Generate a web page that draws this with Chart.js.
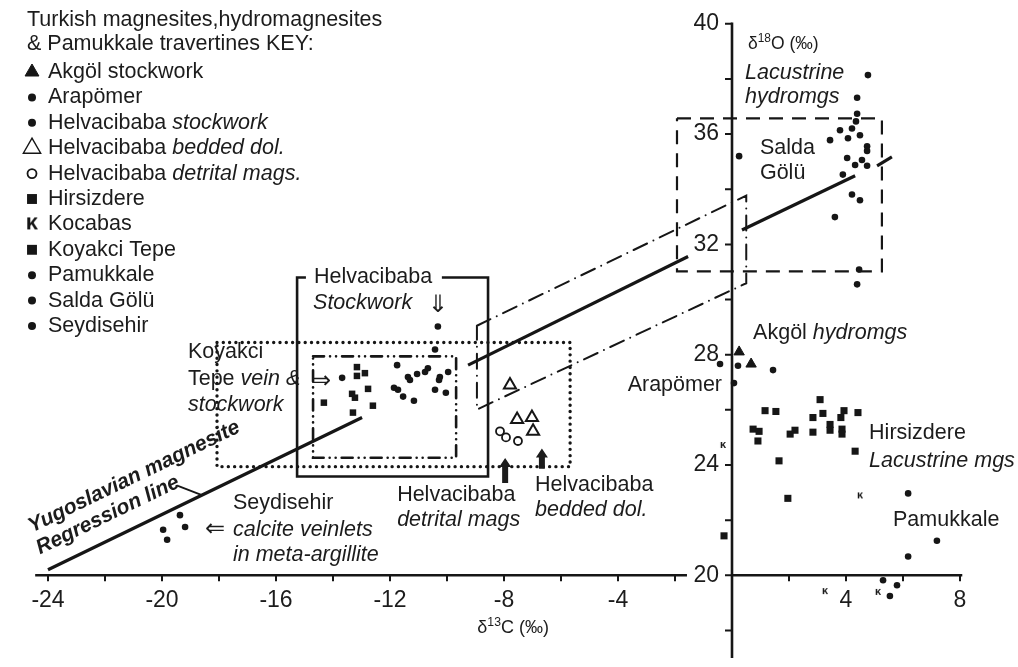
<!DOCTYPE html>
<html>
<head>
<meta charset="utf-8">
<script src="https://cdn.jsdelivr.net/npm/chart.js@4.4.1/dist/chart.umd.min.js"></script>
<style>
  body { margin: 0; background: #fff; }
  #wrap { width: 1018px; height: 667px; position: relative; }
</style>
</head>
<body>
<div id="wrap"><canvas id="isoChart"></canvas></div>
<script>
// ---------------- Data: [δ13C, δ18O] ----------------
const akgolStockwork = [[0.25, 28.1], [0.67, 27.66]];
const arapomer = [[-0.42, 27.66], [0.21, 27.6], [0.07, 26.97], [1.44, 27.44]];
const helvStockwork = [[-10.32, 29.02], [-10.42, 28.19], [-13.68, 27.16], [-11.75, 27.62], [-11.37, 27.19],
  [-11.30, 27.08], [-11.05, 27.30], [-10.77, 27.37], [-10.67, 27.51], [-10.25, 27.19], [-10.28, 27.08],
  [-9.96, 27.37], [-11.86, 26.80], [-11.72, 26.73], [-11.54, 26.48], [-11.16, 26.33], [-10.42, 26.73], [-10.04, 26.62]];
const helvBeddedDol = [[-7.79, 26.9], [-7.54, 25.65], [-7.02, 25.72], [-6.98, 25.22]];
const helvDetrital = [[-8.14, 25.22], [-7.93, 25.0], [-7.51, 24.87]];
const hirsizdere = [[1.16, 25.97], [1.54, 25.94], [3.09, 26.37], [2.84, 25.72], [3.19, 25.87], [3.93, 25.97],
  [4.42, 25.90], [3.82, 25.72], [3.44, 25.47], [3.44, 25.26], [3.86, 25.30], [3.86, 25.12], [2.84, 25.19],
  [2.21, 25.26], [2.04, 25.12], [0.74, 25.30], [0.95, 25.22], [0.91, 24.87], [4.32, 24.50], [1.65, 24.15],
  [1.96, 22.79], [-0.28, 21.43]];
const kocabas = [[-0.32, 24.69], [4.49, 22.86], [3.26, 19.39], [5.12, 19.36]];
const koyakciTepe = [[-13.16, 27.55], [-13.16, 27.23], [-12.88, 27.33], [-13.33, 26.58], [-13.23, 26.44],
  [-12.77, 26.76], [-12.60, 26.15], [-14.32, 26.26], [-13.30, 25.90]];
const pamukkale = [[6.18, 22.97], [7.19, 21.25], [6.18, 20.68], [5.30, 19.82], [5.79, 19.64], [5.54, 19.25]];
const saldaGolu = [[4.77, 38.14], [4.39, 37.32], [4.39, 36.74], [4.35, 36.46], [4.21, 36.20], [3.79, 36.14],
  [4.49, 35.96], [4.07, 35.85], [3.44, 35.78], [4.74, 35.56], [4.74, 35.39], [4.04, 35.13], [4.56, 35.06],
  [4.32, 34.88], [4.74, 34.85], [3.89, 34.53], [4.21, 33.81], [4.49, 33.60], [3.61, 32.99], [4.46, 31.09],
  [4.39, 30.55], [0.25, 35.20]];
const seydisehir = [[-19.37, 22.18], [-19.19, 21.75], [-19.96, 21.65], [-19.82, 21.29]];

// Yugoslavian magnesite regression line (drawn in pieces) and its envelope
const regressionSegments = [
  [[-24, 20.2], [-12.98, 25.72]],
  [[-9.26, 27.62], [-1.54, 31.56]],
  [[0.35, 32.52], [4.32, 34.49]],
  [[5.09, 34.85], [5.61, 35.17]]
];
const regressionLeader = [[-19.44, 23.24], [-18.6, 22.91]];
const confidenceBand = [[-8.95, 29.05], [0.5, 33.77], [0.5, 30.59], [-8.95, 26.01], [-8.95, 29.05]];
const saldaBox = [[-1.93, 36.57], [5.26, 36.57], [5.26, 31.02], [-1.93, 31.02], [-1.93, 36.57]];
const koyakciBox = [[-18.07, 28.44], [-5.68, 28.44], [-5.68, 23.94], [-18.07, 23.94], [-18.07, 28.44]];
const innerBox = [[-14.70, 27.94], [-9.68, 27.94], [-9.68, 24.26], [-14.70, 24.26], [-14.70, 27.94]];
const helvBracket = [[-14.95, 30.80], [-15.26, 30.80], [-15.26, 23.58], [-8.56, 23.58], [-8.56, 30.80], [-10.18, 30.80]];
const upArrows = [[-7.96, 23.35, 24.25], [-6.67, 23.86, 24.6]]; // x, from, to

// ---------------- Axes ----------------
const xTickLabels = [-24, -20, -16, -12, -8, -4, 4, 8];
const xMinorTicks = [-22, -18, -14, -10, -6, -2, 2, 6];
const yTickLabels = [20, 24, 28, 32, 36, 40];
const yMinorTicks = [18, 22, 26, 30, 34, 38];

// ---------------- Texts ----------------
const legendTitle = ['Turkish magnesites,hydromagnesites', '& Pamukkale travertines KEY:'];
const legendLabels = [
  [['Akgöl stockwork', '']],
  [['Arapömer', '']],
  [['Helvacibaba ', ''], ['stockwork', 'italic']],
  [['Helvacibaba ', ''], ['bedded dol.', 'italic']],
  [['Helvacibaba ', ''], ['detrital mags.', 'italic']],
  [['Hirsizdere', '']],
  [['Kocabas', '']],
  [['Koyakci Tepe', '']],
  [['Pamukkale', '']],
  [['Salda Gölü', '']],
  [['Seydisehir', '']]
];
// [x, y, parts, align]
const plotLabels = [
  [-14.67, 30.80, [['Helvacibaba', '']]],
  [-14.70, 29.87, [['Stockwork', 'italic']]],
  [-19.09, 28.09, [['Koyakci', '']]],
  [-19.09, 27.12, [['Tepe ', ''], ['vein &', 'italic']]],
  [-19.09, 26.19, [['stockwork', 'italic']]],
  [-17.51, 22.61, [['Seydisehir', '']]],
  [-17.51, 21.65, [['calcite veinlets', 'italic']]],
  [-17.51, 20.75, [['in meta-argillite', 'italic']]],
  [-11.75, 22.90, [['Helvacibaba', '']]],
  [-11.75, 22.00, [['detrital mags', 'italic']]],
  [-6.91, 23.26, [['Helvacibaba', '']]],
  [-6.91, 22.36, [['bedded dol.', 'italic']]],
  [0.74, 28.77, [['Akgöl ', ''], ['hydromgs', 'italic']]],
  [-0.35, 26.91, [['Arapömer', '']], 'right'],
  [4.81, 25.15, [['Hirsizdere', '']]],
  [4.81, 24.15, [['Lacustrine mgs', 'italic']]],
  [5.65, 22.00, [['Pamukkale', '']]],
  [0.46, 38.21, [['Lacustrine', 'italic']]],
  [0.46, 37.35, [['hydromgs', 'italic']]],
  [0.98, 35.49, [['Salda', '']]],
  [0.98, 34.60, [['Gölü', '']]]
];
const arrowLabels = [[-10.32, 29.77, '⇓'], [-14.42, 27.01, '⇒'], [-18.14, 21.65, '⇐']];
const yAxisTitle = [0.56, 39.25, [['δ', ''], ['18', 'sup'], ['O (‰)', '']]];
const xAxisTitle = [-7.68, 18.07, [['δ', ''], ['13', 'sup'], ['C (‰)', '']]];
const regressionTitle = [[-24.56, 21.54, 'Yugoslavian magnesite'], [-24.28, 20.75, 'Regression line']];

const INK = '#161616';
const FAMILY = '"Liberation Sans", Arial, "DejaVu Sans", sans-serif';
const LABEL_PX = 21.5;

function kappaStyle(size, fontPx) {
  const c = document.createElement('canvas');
  c.width = size; c.height = size;
  const g = c.getContext('2d');
  g.fillStyle = INK;
  g.font = `bold ${fontPx}px ${FAMILY}`;
  g.textAlign = 'center';
  g.textBaseline = 'middle';
  g.fillText('κ', size / 2, size / 2 - 1);
  return c;
}
const kappaSmall = kappaStyle(12, 11);
const kappaLarge = kappaStyle(22, 22);

const toXY = arr => arr.map(p => ({x: p[0], y: p[1]}));

// ---------------- Datasets ----------------
const markerDatasets = [
  {data: toXY(akgolStockwork), pointStyle: 'triangle', pointRadius: 6, backgroundColor: INK, borderColor: INK, borderWidth: 1, legendRadius: 8},
  {data: toXY(arapomer), pointStyle: 'circle', pointRadius: 3.3, backgroundColor: INK, borderColor: INK, borderWidth: 0, legendRadius: 4},
  {data: toXY(helvStockwork), pointStyle: 'circle', pointRadius: 3.3, backgroundColor: INK, borderColor: INK, borderWidth: 0, legendRadius: 4},
  {data: toXY(helvBeddedDol), pointStyle: 'triangle', pointRadius: 7, backgroundColor: '#fff', borderColor: INK, borderWidth: 2, legendRadius: 10, legendBorder: 1.4},
  {data: toXY(helvDetrital), pointStyle: 'circle', pointRadius: 4, backgroundColor: '#fff', borderColor: INK, borderWidth: 1.8, legendRadius: 4.5},
  {data: toXY(hirsizdere), pointStyle: 'rect', pointRadius: 5, backgroundColor: INK, borderColor: INK, borderWidth: 0, legendRadius: 7},
  {data: toXY(kocabas), pointStyle: kappaSmall, pointRadius: 5, backgroundColor: INK, borderColor: INK, borderWidth: 0, legendStyle: kappaLarge},
  {data: toXY(koyakciTepe), pointStyle: 'rect', pointRadius: 4.6, backgroundColor: INK, borderColor: INK, borderWidth: 0, legendRadius: 7},
  {data: toXY(pamukkale), pointStyle: 'circle', pointRadius: 3.3, backgroundColor: INK, borderColor: INK, borderWidth: 0, legendRadius: 4},
  {data: toXY(saldaGolu), pointStyle: 'circle', pointRadius: 3.3, backgroundColor: INK, borderColor: INK, borderWidth: 0, legendRadius: 4},
  {data: toXY(seydisehir), pointStyle: 'circle', pointRadius: 3.3, backgroundColor: INK, borderColor: INK, borderWidth: 0, legendRadius: 4}
];

function lineSet(points, width, dash, cap) {
  return {
    data: toXY(points), showLine: true, pointRadius: 0, borderColor: INK, backgroundColor: INK,
    borderWidth: width, borderDash: dash || [], borderCapStyle: cap || 'butt', borderJoinStyle: 'miter',
    tension: 0, fill: false
  };
}

const lineDatasets = [
  ...regressionSegments.map(seg => lineSet(seg, 3.2)),
  lineSet(regressionLeader, 1.8),
  lineSet(confidenceBand, 2, [15, 7, 0, 7], 'round'),
  lineSet(saldaBox, 2.2, [14, 9]),
  lineSet(koyakciBox, 3.4, [0, 6.3], 'round'),
  lineSet(innerBox, 2.6, [11, 6, 0, 6, 0, 6], 'round'),
  lineSet(helvBracket, 2.6)
];


// ---------------- Text helpers ----------------
function fontFor(size, style) {
  return `${style === 'italic' ? 'italic ' : ''}${style === 'bold' ? 'bold ' : ''}${size}px ${FAMILY}`;
}

function drawParts(ctx, parts, x, y, size, align) {
  const sizes = parts.map(p => p[1] === 'sup' ? size * 0.68 : size);
  const widths = parts.map((p, i) => {
    ctx.font = fontFor(sizes[i], p[1]);
    return ctx.measureText(p[0]).width;
  });
  const total = widths.reduce((a, b) => a + b, 0);
  let cx = align === 'right' ? x - total : align === 'center' ? x - total / 2 : x;
  ctx.textAlign = 'left';
  ctx.textBaseline = 'middle';
  parts.forEach((p, i) => {
    ctx.font = fontFor(sizes[i], p[1]);
    ctx.fillText(p[0], cx, p[1] === 'sup' ? y - size * 0.3 : y);
    cx += widths[i];
  });
}

function drawMarker(ctx, ds, x, y) {
  ctx.save();
  ctx.fillStyle = ds.backgroundColor;
  ctx.strokeStyle = ds.borderColor;
  const bw = ds.legendBorder !== undefined ? ds.legendBorder : ds.borderWidth;
  ctx.lineWidth = bw;
  Chart.helpers.drawPoint(ctx, {
    pointStyle: ds.legendStyle || ds.pointStyle,
    radius: ds.legendRadius || 5,
    rotation: 0,
    borderWidth: bw
  }, x, y);
  ctx.restore();
}

// ---------------- Axes, labels and key ----------------
const figurePlugin = {
  id: 'figure',
  afterDatasetsDraw(chart) {
    const ctx = chart.ctx;
    const xs = chart.scales.x, ys = chart.scales.y;
    const px = v => xs.getPixelForValue(v);
    const py = v => ys.getPixelForValue(v);
    ctx.save();
    ctx.strokeStyle = INK;
    ctx.fillStyle = INK;

    // axis lines: x axis broken around the "20" label, y axis at δ13C = 0
    ctx.lineWidth = 2.6;
    ctx.beginPath();
    ctx.moveTo(px(-24.45), py(20)); ctx.lineTo(px(-1.58), py(20));
    ctx.moveTo(px(0), py(20)); ctx.lineTo(px(8.08), py(20));
    ctx.moveTo(px(0), py(40.05)); ctx.lineTo(px(0), py(17));
    ctx.stroke();

    ctx.lineWidth = 2;
    ctx.beginPath();
    [...xTickLabels, ...xMinorTicks].forEach(v => {
      ctx.moveTo(px(v), py(20)); ctx.lineTo(px(v), py(20) + 6);
    });
    [...yTickLabels, ...yMinorTicks].forEach(v => {
      ctx.moveTo(px(0), py(v)); ctx.lineTo(px(0) - 7, py(v));
    });
    ctx.stroke();

    ctx.fillStyle = '#1c1c1c';
    ctx.font = `23px ${FAMILY}`;
    ctx.textBaseline = 'middle';
    ctx.textAlign = 'center';
    xTickLabels.forEach(v => ctx.fillText(String(v), px(v), py(20) + 25));
    ctx.textAlign = 'right';
    yTickLabels.forEach(v => ctx.fillText(String(v), px(0) - 13, py(v)));

    drawParts(ctx, yAxisTitle[2], px(yAxisTitle[0]), py(yAxisTitle[1]), 17.5);
    drawParts(ctx, xAxisTitle[2], px(xAxisTitle[0]), py(xAxisTitle[1]), 18, 'center');

    // annotations
    plotLabels.forEach(l => drawParts(ctx, l[2], px(l[0]), py(l[1]), LABEL_PX, l[3]));
    ctx.font = `24px "DejaVu Sans", ${FAMILY}`;
    ctx.textAlign = 'center';
    ctx.textBaseline = 'middle';
    arrowLabels.forEach(a => ctx.fillText(a[2], px(a[0]), py(a[1])));

    // rotated regression-line title, parallel to the line
    const seg = regressionSegments[0];
    const ang = Math.atan2(py(seg[1][1]) - py(seg[0][1]), px(seg[1][0]) - px(seg[0][0]));
    regressionTitle.forEach(t => {
      ctx.save();
      ctx.translate(px(t[0]), py(t[1]));
      ctx.rotate(ang);
      ctx.font = `italic bold 21px ${FAMILY}`;
      ctx.textAlign = 'left';
      ctx.textBaseline = 'alphabetic';
      ctx.fillText(t[2], 0, 0);
      ctx.restore();
    });

    // bold up arrows under the Helvacibaba groups
    upArrows.forEach(a => {
      const x = px(a[0]), yb = py(a[1]), yt = py(a[2]);
      ctx.beginPath();
      ctx.moveTo(x - 3, yb); ctx.lineTo(x + 3, yb);
      ctx.lineTo(x + 3, yt + 9); ctx.lineTo(x + 6, yt + 9);
      ctx.lineTo(x, yt); ctx.lineTo(x - 6, yt + 9);
      ctx.lineTo(x - 3, yt + 9); ctx.closePath();
      ctx.fill();
    });

    // key
    const area = chart.chartArea;
    const kx = area.left - 21, ky = area.top + 10;
    ctx.fillStyle = '#1c1c1c';
    ctx.font = `${LABEL_PX}px ${FAMILY}`;
    ctx.textAlign = 'left';
    ctx.textBaseline = 'middle';
    legendTitle.forEach((t, i) => ctx.fillText(t, kx, ky + i * 24.5));
    legendLabels.forEach((parts, i) => {
      const yy = ky + 52 + i * 25.4;
      drawMarker(ctx, markerDatasets[i], kx + 5, yy);
      ctx.fillStyle = '#1c1c1c';
      drawParts(ctx, parts, kx + 21, yy, LABEL_PX);
    });
    ctx.restore();
  }
};

new Chart(document.getElementById('isoChart'), {
  type: 'scatter',
  data: {
    datasets: [...markerDatasets, ...lineDatasets].map(d => Object.assign({clip: false}, d))
  },
  options: {
    responsive: true,
    maintainAspectRatio: false,
    animation: false,
    events: [],
    layout: {padding: {left: 48, right: 58, top: 10, bottom: 0}},
    scales: {
      x: {type: 'linear', min: -24, max: 8, display: false},
      y: {type: 'linear', min: 17, max: 40.5, display: false}
    },
    plugins: {
      legend: {display: false},
      tooltip: {enabled: false}
    }
  },
  plugins: [figurePlugin]
});
</script>
</body>
</html>
